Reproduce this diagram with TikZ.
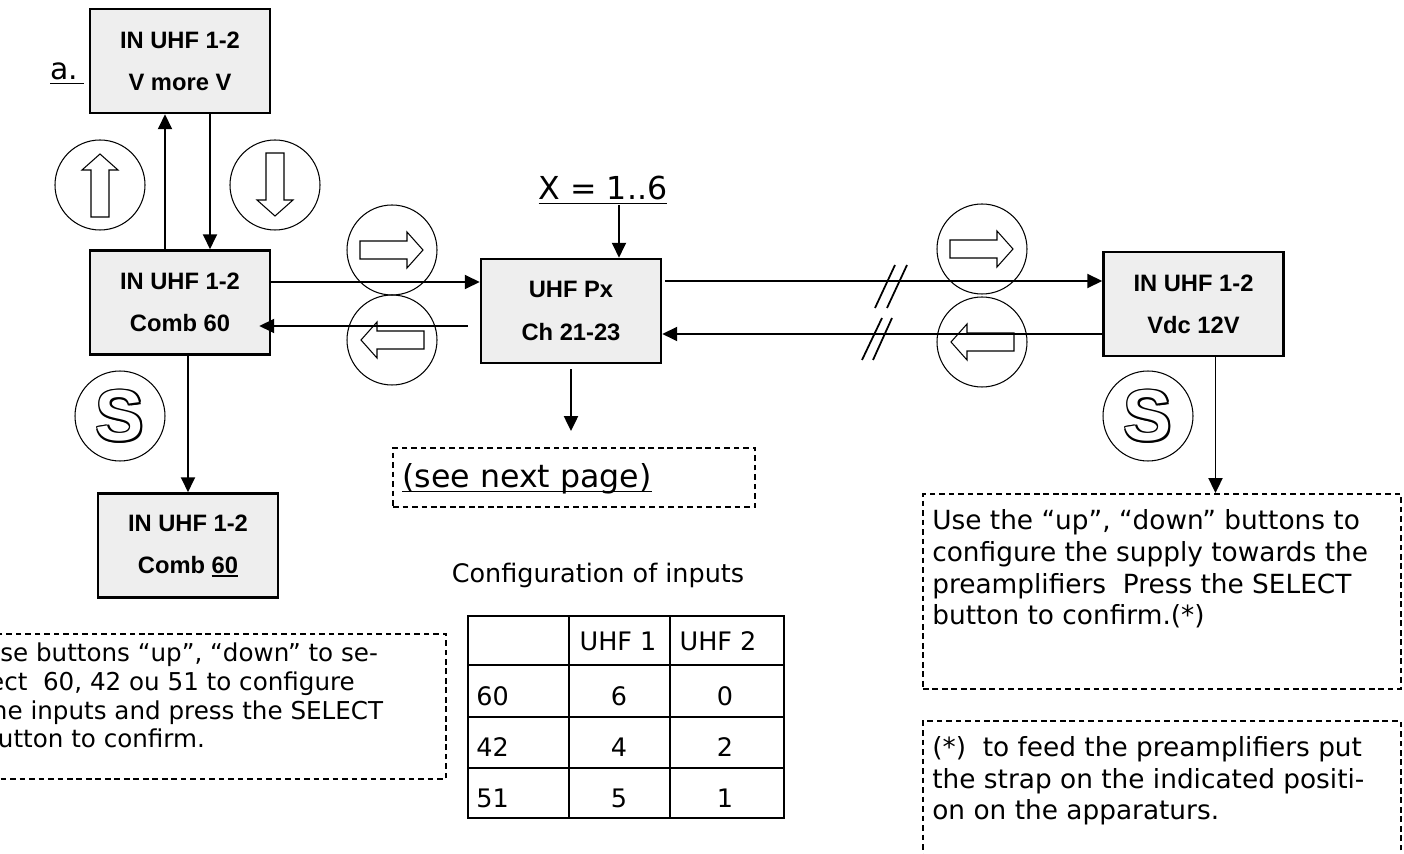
\documentclass[tikz,border=0pt]{standalone}
\usepackage{fontspec}
\usetikzlibrary{arrows.meta,calc}

\newfontfamily\boxfam{Liberation Sans}
\newfontfamily\notefam{DejaVu Sans}
\definecolor{unitgray}{HTML}{EEEEEE}

% underlined text and outlined letter
\newcommand\ulin[1]{\setbox0\hbox{#1}\leavevmode\rlap{\rule[-0.14em]{\wd0}{0.055em}}\box0}
\newcommand\outl[1]{\leavevmode
  \rlap{\kern1pt #1}\rlap{\kern-1pt #1}\rlap{\raisebox{1pt}{#1}}\rlap{\raisebox{-1pt}{#1}}%
  \rlap{\kern.7pt\raisebox{.7pt}{#1}}\rlap{\kern-.7pt\raisebox{.7pt}{#1}}%
  \rlap{\kern.7pt\raisebox{-.7pt}{#1}}\rlap{\kern-.7pt\raisebox{-.7pt}{#1}}%
  \textcolor{white}{#1}}

\tikzset{
  unitbox/.style={draw, line width=1.5pt, fill=unitgray, minimum width=3.6cm, minimum height=2.08cm,
    align=center, font=\boxfam\bfseries\fontsize{13.5}{24}\selectfont},
  wire/.style={line width=1.1pt, -{Triangle[length=8.5pt,width=8pt]}},
  notebox/.style={draw, line width=1.1pt, dash pattern=on 3.2pt off 2.2pt, inner sep=0pt},
  notetext/.style={align=left, inner sep=0pt, font=\notefam\fontsize{14}{16.5}\selectfont},
  widetext/.style={align=left, inner sep=0pt, font=\notefam\fontsize{15}{18.1}\selectfont},
  bigtext/.style={inner sep=0pt, font=\notefam\fontsize{18}{18}\selectfont},
  cell/.style={inner sep=0pt, font=\notefam\fontsize{14.5}{14.5}\selectfont},
  btn/.style={line width=0.6pt},
  sbtn/.style={circle, draw, line width=0.6pt, minimum size=1.8cm, inner sep=0pt,
    font=\boxfam\bfseries\fontsize{41}{41}\selectfont},
  grid/.style={line width=1.6pt},
  hollow/.pic={\draw[btn] (-32,-9) -- (15,-9) -- (15,-18) -- (31,0) -- (15,18) -- (15,9) -- (-32,9) -- cycle;}
}

\begin{document}
\begin{tikzpicture}[x=0.02cm, y=-0.02cm]

\useasboundingbox (0,0) rectangle (1404,854);
\clip (0,0) rectangle (1404,854);

% Part label
\node[anchor=base west, inner sep=0pt, font=\notefam\fontsize{17}{17}\selectfont] (part) at (50,80) {\ulin{a.\hspace{0.2em}}};

% Units
\node[unitbox] (vmore) at (180,61) {IN UHF 1-2\\V more V};
\node[unitbox] (comb) at (180,302.5) {IN UHF 1-2\\Comb 60};
\node[unitbox] (combout) at (188,545.5) {IN UHF 1-2\\Comb \ulin{60}};
\node[unitbox] (px) at (571,311) {UHF Px\\Ch 21-23};
\node[unitbox] (vdc) at (1193.5,304) {IN UHF 1-2\\Vdc 12V};

% Channel selector and next page
\node[bigtext, anchor=base] (xsel) at (603,200) {\ulin{X = 1..6}};
\node[notebox, minimum width=7.24cm, minimum height=1.18cm] (nextpage) at (574,477.5) {};
\node[bigtext, anchor=base west] (nexttext) at (402,488) {\ulin{(see next page)}};

% Connections
\draw[wire] ([xshift=-0.3cm]comb.north) -- ([xshift=-0.3cm]vmore.south);
\draw[wire] ([xshift=0.6cm]vmore.south) -- ([xshift=0.6cm]comb.north);
\draw[wire] (comb.south -| combout.north) -- (combout.north);
\draw[wire] ([yshift=0.41cm]comb.east) -- ([yshift=0.41cm]comb.east -| px.west);
\draw[wire] ([xshift=-0.24cm,yshift=-0.3cm]px.west) -- ([xshift=-0.24cm,yshift=-0.3cm]px.west -| comb.east);
\draw[wire] ([xshift=0.06cm,yshift=0.6cm]px.east) -- ([yshift=0.6cm]px.east -| vdc.west);
\draw[wire] ([yshift=-0.6cm]vdc.west) -- ([yshift=-0.6cm]vdc.west -| px.east);
\draw[wire] ([xshift=0.96cm]px.north |- xsel.south) -- ([xshift=0.96cm]px.north);
\draw[wire] ([yshift=-0.1cm]px.south) -- ($(px.south |- nextpage.north)+(0,-16)$);

% Line breaks
\foreach \xa/\ya/\xb/\yb in {875/308/895/265, 887/308/907/265, 862/360/882/318, 873/360/892/318}
  \draw[line width=1pt] (\xa,\ya) -- (\xb,\yb);

% Up, down, right and left buttons
\foreach \cx/\cy/\ang in {100/185/90, 275/185/-90, 392/250/0, 392/340/180, 982/249/0, 982/342/180} {
  \draw[btn] (\cx,\cy) circle[radius=45];
  \pic[rotate=\ang] at (\cx,\cy) {hollow};
}

% Select buttons
\node[sbtn] (sleft) at (120,416) {\outl{S}};
\node[sbtn] (sright) at (1148,416) {\outl{S}};

% Notes (base = last line)
\node[notebox, minimum width=9.48cm, minimum height=2.9cm, anchor=north east] (setnote) at (447,633) {};
\node[notetext, anchor=base west] (settext) at (-18,748)
  {Use buttons “up”, “down” to se-\\lect~ 60, 42 ou 51 to configure\\the inputs and press the SELECT\\button to confirm.};

\node[notebox, minimum width=9.56cm, minimum height=3.9cm, anchor=north west] (supply) at (922,493) {};
\node[widetext, anchor=base west] (supplytext) at (932,625)
  {Use the “up”, “down” buttons to\\configure the supply towards the\\preamplifiers~ Press the SELECT\\button to confirm.(*)};
\draw[wire] ([xshift=0.44cm]vdc.south) -- ([xshift=0.44cm]vdc.south |- supply.north);

\node[notebox, minimum width=9.56cm, minimum height=2.9cm, anchor=north west] (strap) at (922,720) {};
\node[widetext, anchor=base west] (straptext) at (932,820)
  {(*)~ to feed the preamplifiers put\\the strap on the indicated positi-\\on on the apparaturs.};

% Configuration table
\node[cell] (cfgtitle) at (598,575) {Configuration of inputs};
\draw[grid] (468,616) rectangle (784,818);
\foreach \y in {665,717,768} \draw[grid] (468,\y) -- (784,\y);
\foreach \x in {569,670} \draw[grid] (\x,616) -- (\x,818);
\node[cell] (h1) at (618,641) {UHF 1};
\node[cell] (h2) at (718,641) {UHF 2};
\foreach \y/\lab/\a/\b [count=\r] in {696/60/6/0, 747/42/4/2, 798/51/5/1} {
  \node[cell, anchor=west] (k\r) at (476,\y) {\lab};
  \node[cell] (a\r) at (619,\y) {\a};
  \node[cell] (b\r) at (725,\y) {\b};
}

\end{tikzpicture}
\end{document}
